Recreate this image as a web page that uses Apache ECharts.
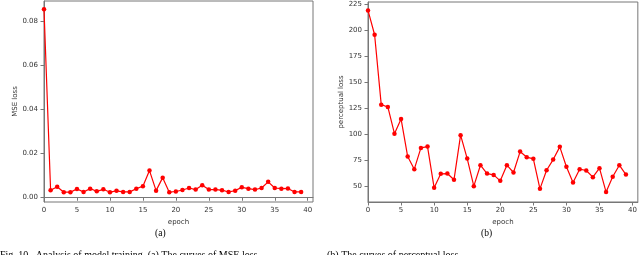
<!DOCTYPE html>
<html>
<head>
<meta charset="utf-8">
<script src="https://cdn.jsdelivr.net/npm/echarts@6/dist/echarts.min.js"></script>
<style>html,body{margin:0;padding:0;background:#fff;}#c{width:640px;height:255px;}</style>
</head>
<body>
<div id="c"></div>
<script>
const epochs = Array.from({length: 40}, (_, i) => i);
const mseLoss = [0.0853, 0.0032, 0.0048, 0.0023, 0.0023, 0.0038, 0.0024, 0.0039, 0.0027, 0.0036,
  0.0023, 0.0029, 0.0024, 0.0024, 0.0039, 0.0050, 0.0121, 0.0030, 0.0089, 0.0023,
  0.0026, 0.0033, 0.0042, 0.0035, 0.0055, 0.0035, 0.0035, 0.0032, 0.0024, 0.0030,
  0.0045, 0.0039, 0.0035, 0.0042, 0.0070, 0.0042, 0.0039, 0.0040, 0.0024, 0.0024];
const perceptualLoss = [218.6, 195.3, 128.2, 126.0, 100.4, 114.5, 78.4, 66.3, 86.7, 88.0,
  48.4, 61.8, 62.1, 56.1, 98.9, 76.5, 50.0, 70.1, 62.1, 60.8,
  55.1, 70.1, 63.1, 83.2, 77.8, 76.2, 47.4, 65.3, 75.5, 87.7,
  68.6, 53.5, 66.3, 65.0, 58.6, 67.3, 44.3, 59.0, 70.1, 61.1];
const xTicks = [0, 5, 10, 15, 20, 25, 30, 35, 40];
const mseTicks = [0.00, 0.02, 0.04, 0.06, 0.08];
const percTicks = [50, 75, 100, 125, 150, 175, 200, 225];

const frame = '#777';
const txt = '#333';
const font = 'DejaVu Sans';

function xAxisDef(gi) {
  return {
    type: 'value', gridIndex: gi, min: 0, max: 40.8,
    name: 'epoch', nameLocation: 'middle', nameGap: 14,
    nameTextStyle: {fontFamily: font, fontSize: 7, color: txt},
    axisLine: {show: true, lineStyle: {color: frame, width: 1}},
    axisTick: {show: true, length: 3.5, lineStyle: {color: frame}, customValues: xTicks},
    axisLabel: {fontFamily: font, fontSize: 7, color: txt, margin: 5, customValues: xTicks},
    splitLine: {show: false}
  };
}
function yAxisDef(gi, name, min, max, ticks, fmt, gap) {
  return {
    type: 'value', gridIndex: gi, min: min, max: max,
    name: name, nameLocation: 'middle', nameGap: gap,
    nameTextStyle: {fontFamily: font, fontSize: 7, color: txt},
    axisLine: {show: true, lineStyle: {color: frame, width: 1}},
    axisTick: {show: true, length: 3.5, lineStyle: {color: frame}, customValues: ticks},
    axisLabel: {fontFamily: font, fontSize: 7, color: txt, margin: 6, customValues: ticks, formatter: fmt},
    splitLine: {show: false}
  };
}
function seriesDef(idx, data) {
  return {
    type: 'line', xAxisIndex: idx, yAxisIndex: idx,
    data: epochs.map((e, i) => [e, data[i]]),
    symbol: 'circle', symbolSize: 4.5, showSymbol: true,
    lineStyle: {color: '#ff0000', width: 1.2},
    itemStyle: {color: '#ff0000'},
    animation: false
  };
}

const chart = echarts.init(document.getElementById('c'), null, {renderer: 'canvas'});
chart.setOption({
  animation: false,
  grid: [
    {left: 44, top: 1, width: 269, height: 201, show: true, borderColor: frame, borderWidth: 1, backgroundColor: 'transparent'},
    {left: 368, top: 2, width: 270, height: 200, show: true, borderColor: frame, borderWidth: 1, backgroundColor: 'transparent'}
  ],
  xAxis: [xAxisDef(0), xAxisDef(1)],
  yAxis: [
    yAxisDef(0, 'MSE loss', -0.00215, 0.089, mseTicks, v => v.toFixed(2), 25),
    yAxisDef(1, 'perceptual loss', 34.8, 226.7, percTicks, v => String(Math.round(v)), 23)
  ],
  series: [seriesDef(0, mseLoss), seriesDef(1, perceptualLoss)],
  graphic: [
    {type: 'text', left: 155, top: 228, style: {text: '(a)', font: '9.5px "Liberation Serif"', fill: '#000'}},
    {type: 'text', left: 481, top: 228, style: {text: '(b)', font: '9.5px "Liberation Serif"', fill: '#000'}},
    {type: 'text', left: 0, top: 250, style: {text: 'Fig. 10.  Analysis of model training. (a) The curves of MSE loss', font: '10px "Liberation Serif"', fill: '#000'}},
    {type: 'text', left: 327, top: 250, style: {text: '(b) The curves of perceptual loss', font: '10px "Liberation Serif"', fill: '#000'}}
  ]
});
</script>
</body>
</html>
